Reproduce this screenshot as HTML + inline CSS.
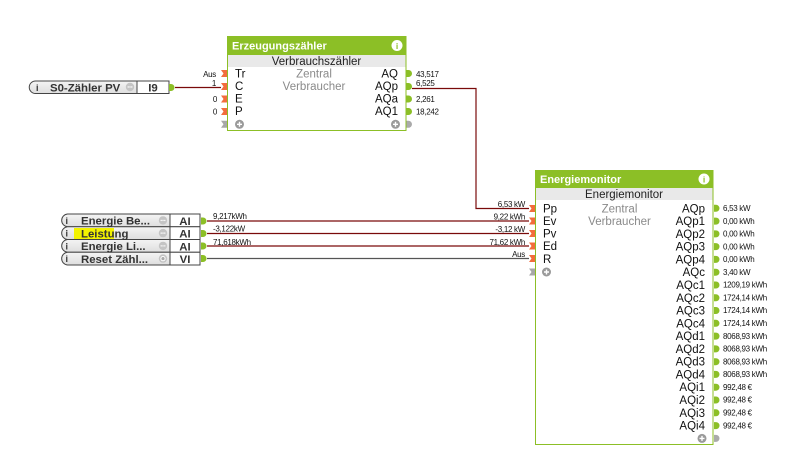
<!DOCTYPE html>
<html><head><meta charset="utf-8"><style>
html,body{margin:0;padding:0;background:#fff;}
svg{display:block;}
text{font-family:"Liberation Sans",Arial,sans-serif;}
.v{font-size:8px;fill:#111;letter-spacing:-0.3px;}
.p{font-size:11.5px;fill:#111;}
.h{font-size:11px;font-weight:bold;fill:#fff;}
.c{font-size:11.5px;fill:#8a8a8a;}
.s{font-size:11.5px;fill:#222;}
.n{font-size:11.4px;font-weight:bold;fill:#333;}
</style></head><body>
<svg width="793" height="463" viewBox="0 0 793 463" xmlns="http://www.w3.org/2000/svg">
<defs>
<linearGradient id="gg" x1="0" y1="0" x2="0" y2="1"><stop offset="0" stop-color="#f4f4f4"/><stop offset="1" stop-color="#dedede"/></linearGradient>
<g id="inA"><path d="M-6,-3.5 H0 V3.5 H-6 L-3.5,0 Z" fill="#f26d3d"/></g>
<g id="inG"><path d="M-6,-3.5 H0 V3.5 H-6 L-3.5,0 Z" fill="#a8a8a8"/></g>
<g id="outG"><path d="M0,-3.5 H2 A3.5,3.5 0 0 1 2,3.5 H0 Z" fill="#8cbf26"/></g>
<g id="outGr"><path d="M0,-3.5 H2 A3.5,3.5 0 0 1 2,3.5 H0 Z" fill="#aaa"/></g>
<g id="plus"><circle r="4.5" fill="#9a9a9a"/><path d="M-2.5,0 H2.5 M0,-2.5 V2.5" stroke="#fff" stroke-width="1.4"/></g>
<g id="info"><circle r="5.5" fill="#fff"/><text x="0" y="3.5" text-anchor="middle" style="font-size:8.5px;font-weight:bold;fill:#8cbf26">i</text></g>
<g id="dots"><circle r="4.2" fill="#c4c4c4"/><circle cx="-1.8" r="0.7" fill="#fff"/><circle r="0.7" fill="#fff"/><circle cx="1.8" r="0.7" fill="#fff"/></g>
<g id="ring"><circle r="4.2" fill="#c4c4c4"/><circle r="2.6" fill="#fff"/><circle r="1.6" fill="#aaa"/></g>
</defs>

<!-- connectors -->
<g fill="none" stroke-width="1.2">
<path d="M175,87.5 H221" stroke="#7a0a0a"/>
<path d="M412,88.5 H476 V208.5 H529" stroke="#7a0a0a"/>
<path d="M207,221 H529" stroke="#7a0a0a"/>
<path d="M207,233.5 H529" stroke="#7a0a0a"/>
<path d="M207,246 H529" stroke="#7a0a0a"/>
<path d="M207,258.5 H529" stroke="#555"/>
</g>

<!-- line labels -->
<text class="v" x="213" y="219">9,217kWh</text>
<text class="v" x="213" y="231.5">-3,122kW</text>
<text class="v" x="213" y="245">71,618kWh</text>
<text class="v" x="525" y="207" text-anchor="end">6,53 kW</text>
<text class="v" x="525" y="219.5" text-anchor="end">9,22 kWh</text>
<text class="v" x="525" y="232" text-anchor="end">-3,12 kW</text>
<text class="v" x="525" y="245" text-anchor="end">71,62 kWh</text>
<text class="v" x="525" y="257" text-anchor="end">Aus</text>

<!-- S0 block -->
<path d="M35.5,81 H137 V93.5 H35.5 A6.25,6.25 0 0 1 35.5,81 Z" fill="url(#gg)" stroke="#444" stroke-width="1"/>
<rect x="137" y="81" width="32" height="12.5" fill="#fff" stroke="#444" stroke-width="1"/>
<text x="36" y="91" style="font-size:9px;font-weight:bold;fill:#333">i</text>
<text class="n" x="50" y="91.5">S0-Zähler PV</text>
<use href="#dots" x="130" y="87"/>
<text class="n" x="153" y="91.5" text-anchor="middle">I9</text>
<use href="#outG" x="169" y="87.5"/>

<!-- left input blocks -->
<g stroke="#444" stroke-width="1">
<path d="M67.5,214 H170 V226.75 H67.5 A6.4,6.4 0 0 1 67.5,214 Z" fill="url(#gg)"/>
<path d="M67.5,226.75 H170 V239.5 H67.5 A6.4,6.4 0 0 1 67.5,226.75 Z" fill="url(#gg)"/>
<path d="M67.5,239.5 H170 V252.25 H67.5 A6.4,6.4 0 0 1 67.5,239.5 Z" fill="url(#gg)"/>
<path d="M67.5,252.25 H170 V265 H67.5 A6.4,6.4 0 0 1 67.5,252.25 Z" fill="url(#gg)"/>
<rect x="170" y="214" width="30" height="12.75" fill="#fff"/>
<rect x="170" y="226.75" width="30" height="12.75" fill="#fff"/>
<rect x="170" y="239.5" width="30" height="12.75" fill="#fff"/>
<rect x="170" y="252.25" width="30" height="12.75" fill="#fff"/>
</g>
<rect x="74" y="228" width="40" height="11" fill="#f3f300"/>
<g style="font-size:9px;font-weight:bold;fill:#333">
<text x="65.5" y="224">i</text><text x="65.5" y="236.7">i</text><text x="65.5" y="249.5">i</text><text x="65.5" y="262.2">i</text>
</g>
<text class="n" x="81" y="224.5">Energie Be...</text>
<text class="n" x="81" y="237.3">Leistung</text>
<text class="n" x="81" y="250">Energie Li...</text>
<text class="n" x="81" y="262.8">Reset Zähl...</text>
<use href="#dots" x="163" y="220.4"/>
<use href="#dots" x="163" y="233.1"/>
<use href="#dots" x="163" y="245.9"/>
<use href="#ring" x="163" y="258.6"/>
<text class="n" x="185" y="225" text-anchor="middle">AI</text>
<text class="n" x="185" y="237.7" text-anchor="middle">AI</text>
<text class="n" x="185" y="250.5" text-anchor="middle">AI</text>
<text class="n" x="185" y="263.2" text-anchor="middle">VI</text>
<use href="#outG" x="201" y="221"/>
<use href="#outG" x="201" y="233.5"/>
<use href="#outG" x="201" y="246"/>
<use href="#outG" x="201" y="258.5"/>

<!-- Erzeugungszähler block -->
<rect x="227.5" y="36.5" width="178.5" height="94" fill="#fff" stroke="#8cbf26" stroke-width="1"/>
<rect x="227" y="36" width="179.5" height="19" fill="#8cbf26"/>
<rect x="228" y="55" width="177.5" height="12" fill="#e9e9e9"/>
<text class="h" x="232" y="49.5">Erzeugungszähler</text>
<use href="#info" x="397" y="45.5"/>
<text class="s" x="316.5" y="65" text-anchor="middle">Verbrauchszähler</text>
<text class="c" x="314" y="77.5" text-anchor="middle">Zentral</text>
<text class="c" x="314" y="90" text-anchor="middle">Verbraucher</text>
<text class="p" x="235" y="77.5">Tr</text>
<text class="p" x="235" y="90">C</text>
<text class="p" x="235" y="102.5">E</text>
<text class="p" x="235" y="115">P</text>
<text class="p" x="398" y="77.5" text-anchor="end">AQ</text>
<text class="p" x="398" y="90" text-anchor="end">AQp</text>
<text class="p" x="398" y="102.5" text-anchor="end">AQa</text>
<text class="p" x="398" y="115" text-anchor="end">AQ1</text>
<use href="#plus" x="239.5" y="124.3"/>
<use href="#plus" x="395.5" y="124.3"/>
<use href="#inA" x="227" y="73.5"/>
<use href="#inA" x="227" y="86.5"/>
<use href="#inA" x="227" y="99"/>
<use href="#inA" x="227" y="111.5"/>
<use href="#inG" x="227" y="124.3"/>
<use href="#outG" x="406.5" y="73.5"/>
<use href="#outG" x="406.5" y="86.5"/>
<use href="#outG" x="406.5" y="99"/>
<use href="#outG" x="406.5" y="111.5"/>
<use href="#outGr" x="406.5" y="124.3"/>
<text class="v" x="216" y="77" text-anchor="end">Aus</text>
<text class="v" x="216" y="86" text-anchor="end">1</text>
<text class="v" x="217" y="102" text-anchor="end">0</text>
<text class="v" x="217" y="114.5" text-anchor="end">0</text>
<text class="v" x="416" y="77">43,517</text>
<text class="v" x="416" y="86">6,525</text>
<text class="v" x="416" y="102">2,261</text>
<text class="v" x="416" y="114.5">18,242</text>

<!-- Energiemonitor block -->
<rect x="535.5" y="170.5" width="177.5" height="274" fill="#fff" stroke="#8cbf26" stroke-width="1"/>
<rect x="535" y="170" width="178.5" height="18" fill="#8cbf26"/>
<rect x="536" y="188" width="176.5" height="12" fill="#e9e9e9"/>
<text class="h" x="540" y="183">Energiemonitor</text>
<use href="#info" x="704" y="179"/>
<text class="s" x="624" y="198" text-anchor="middle">Energiemonitor</text>
<text class="c" x="619.5" y="212.3" text-anchor="middle">Zentral</text>
<text class="c" x="619.5" y="225" text-anchor="middle">Verbraucher</text>
<text class="p" x="543" y="212.3">Pp</text>
<text class="p" x="543" y="225">Ev</text>
<text class="p" x="543" y="237.5">Pv</text>
<text class="p" x="543" y="250.2">Ed</text>
<text class="p" x="543" y="262.8">R</text>
<use href="#plus" x="546.5" y="272"/>
<use href="#inA" x="535" y="208.5"/>
<use href="#inA" x="535" y="221"/>
<use href="#inA" x="535" y="233.5"/>
<use href="#inA" x="535" y="246"/>
<use href="#inA" x="535" y="258.5"/>
<use href="#inG" x="535" y="272"/>

<g class="p" text-anchor="end">
<text class="p" x="705" y="212.3">AQp</text>
<text class="p" x="705" y="225.1">AQp1</text>
<text class="p" x="705" y="237.9">AQp2</text>
<text class="p" x="705" y="250.6">AQp3</text>
<text class="p" x="705" y="263.4">AQp4</text>
<text class="p" x="705" y="276.2">AQc</text>
<text class="p" x="705" y="289">AQc1</text>
<text class="p" x="705" y="301.8">AQc2</text>
<text class="p" x="705" y="314.5">AQc3</text>
<text class="p" x="705" y="327.3">AQc4</text>
<text class="p" x="705" y="340.1">AQd1</text>
<text class="p" x="705" y="352.9">AQd2</text>
<text class="p" x="705" y="365.7">AQd3</text>
<text class="p" x="705" y="378.4">AQd4</text>
<text class="p" x="705" y="391.2">AQi1</text>
<text class="p" x="705" y="404">AQi2</text>
<text class="p" x="705" y="416.8">AQi3</text>
<text class="p" x="705" y="429.6">AQi4</text>
</g>
<g>
<use href="#outG" x="714" y="208.3"/><use href="#outG" x="714" y="221.1"/><use href="#outG" x="714" y="233.9"/>
<use href="#outG" x="714" y="246.6"/><use href="#outG" x="714" y="259.4"/><use href="#outG" x="714" y="272.2"/>
<use href="#outG" x="714" y="285"/><use href="#outG" x="714" y="297.8"/><use href="#outG" x="714" y="310.5"/>
<use href="#outG" x="714" y="323.3"/><use href="#outG" x="714" y="336.1"/><use href="#outG" x="714" y="348.9"/>
<use href="#outG" x="714" y="361.7"/><use href="#outG" x="714" y="374.4"/><use href="#outG" x="714" y="387.2"/>
<use href="#outG" x="714" y="400"/><use href="#outG" x="714" y="412.8"/><use href="#outG" x="714" y="425.6"/>
<use href="#outGr" x="714" y="438.4"/>
</g>
<use href="#plus" x="702" y="438.4"/>
<g>
<text class="v" x="723" y="211">6,53 kW</text>
<text class="v" x="723" y="223.8">0,00 kWh</text>
<text class="v" x="723" y="236.6">0,00 kWh</text>
<text class="v" x="723" y="249.3">0,00 kWh</text>
<text class="v" x="723" y="262.1">0,00 kWh</text>
<text class="v" x="723" y="274.9">3,40 kW</text>
<text class="v" x="723" y="287.7">1209,19 kWh</text>
<text class="v" x="723" y="300.5">1724,14 kWh</text>
<text class="v" x="723" y="313.2">1724,14 kWh</text>
<text class="v" x="723" y="326">1724,14 kWh</text>
<text class="v" x="723" y="338.8">8068,93 kWh</text>
<text class="v" x="723" y="351.6">8068,93 kWh</text>
<text class="v" x="723" y="364.4">8068,93 kWh</text>
<text class="v" x="723" y="377.1">8068,93 kWh</text>
<text class="v" x="723" y="389.9">992,48 €</text>
<text class="v" x="723" y="402.7">992,48 €</text>
<text class="v" x="723" y="415.5">992,48 €</text>
<text class="v" x="723" y="428.3">992,48 €</text>
</g>
</svg>
</body></html>
